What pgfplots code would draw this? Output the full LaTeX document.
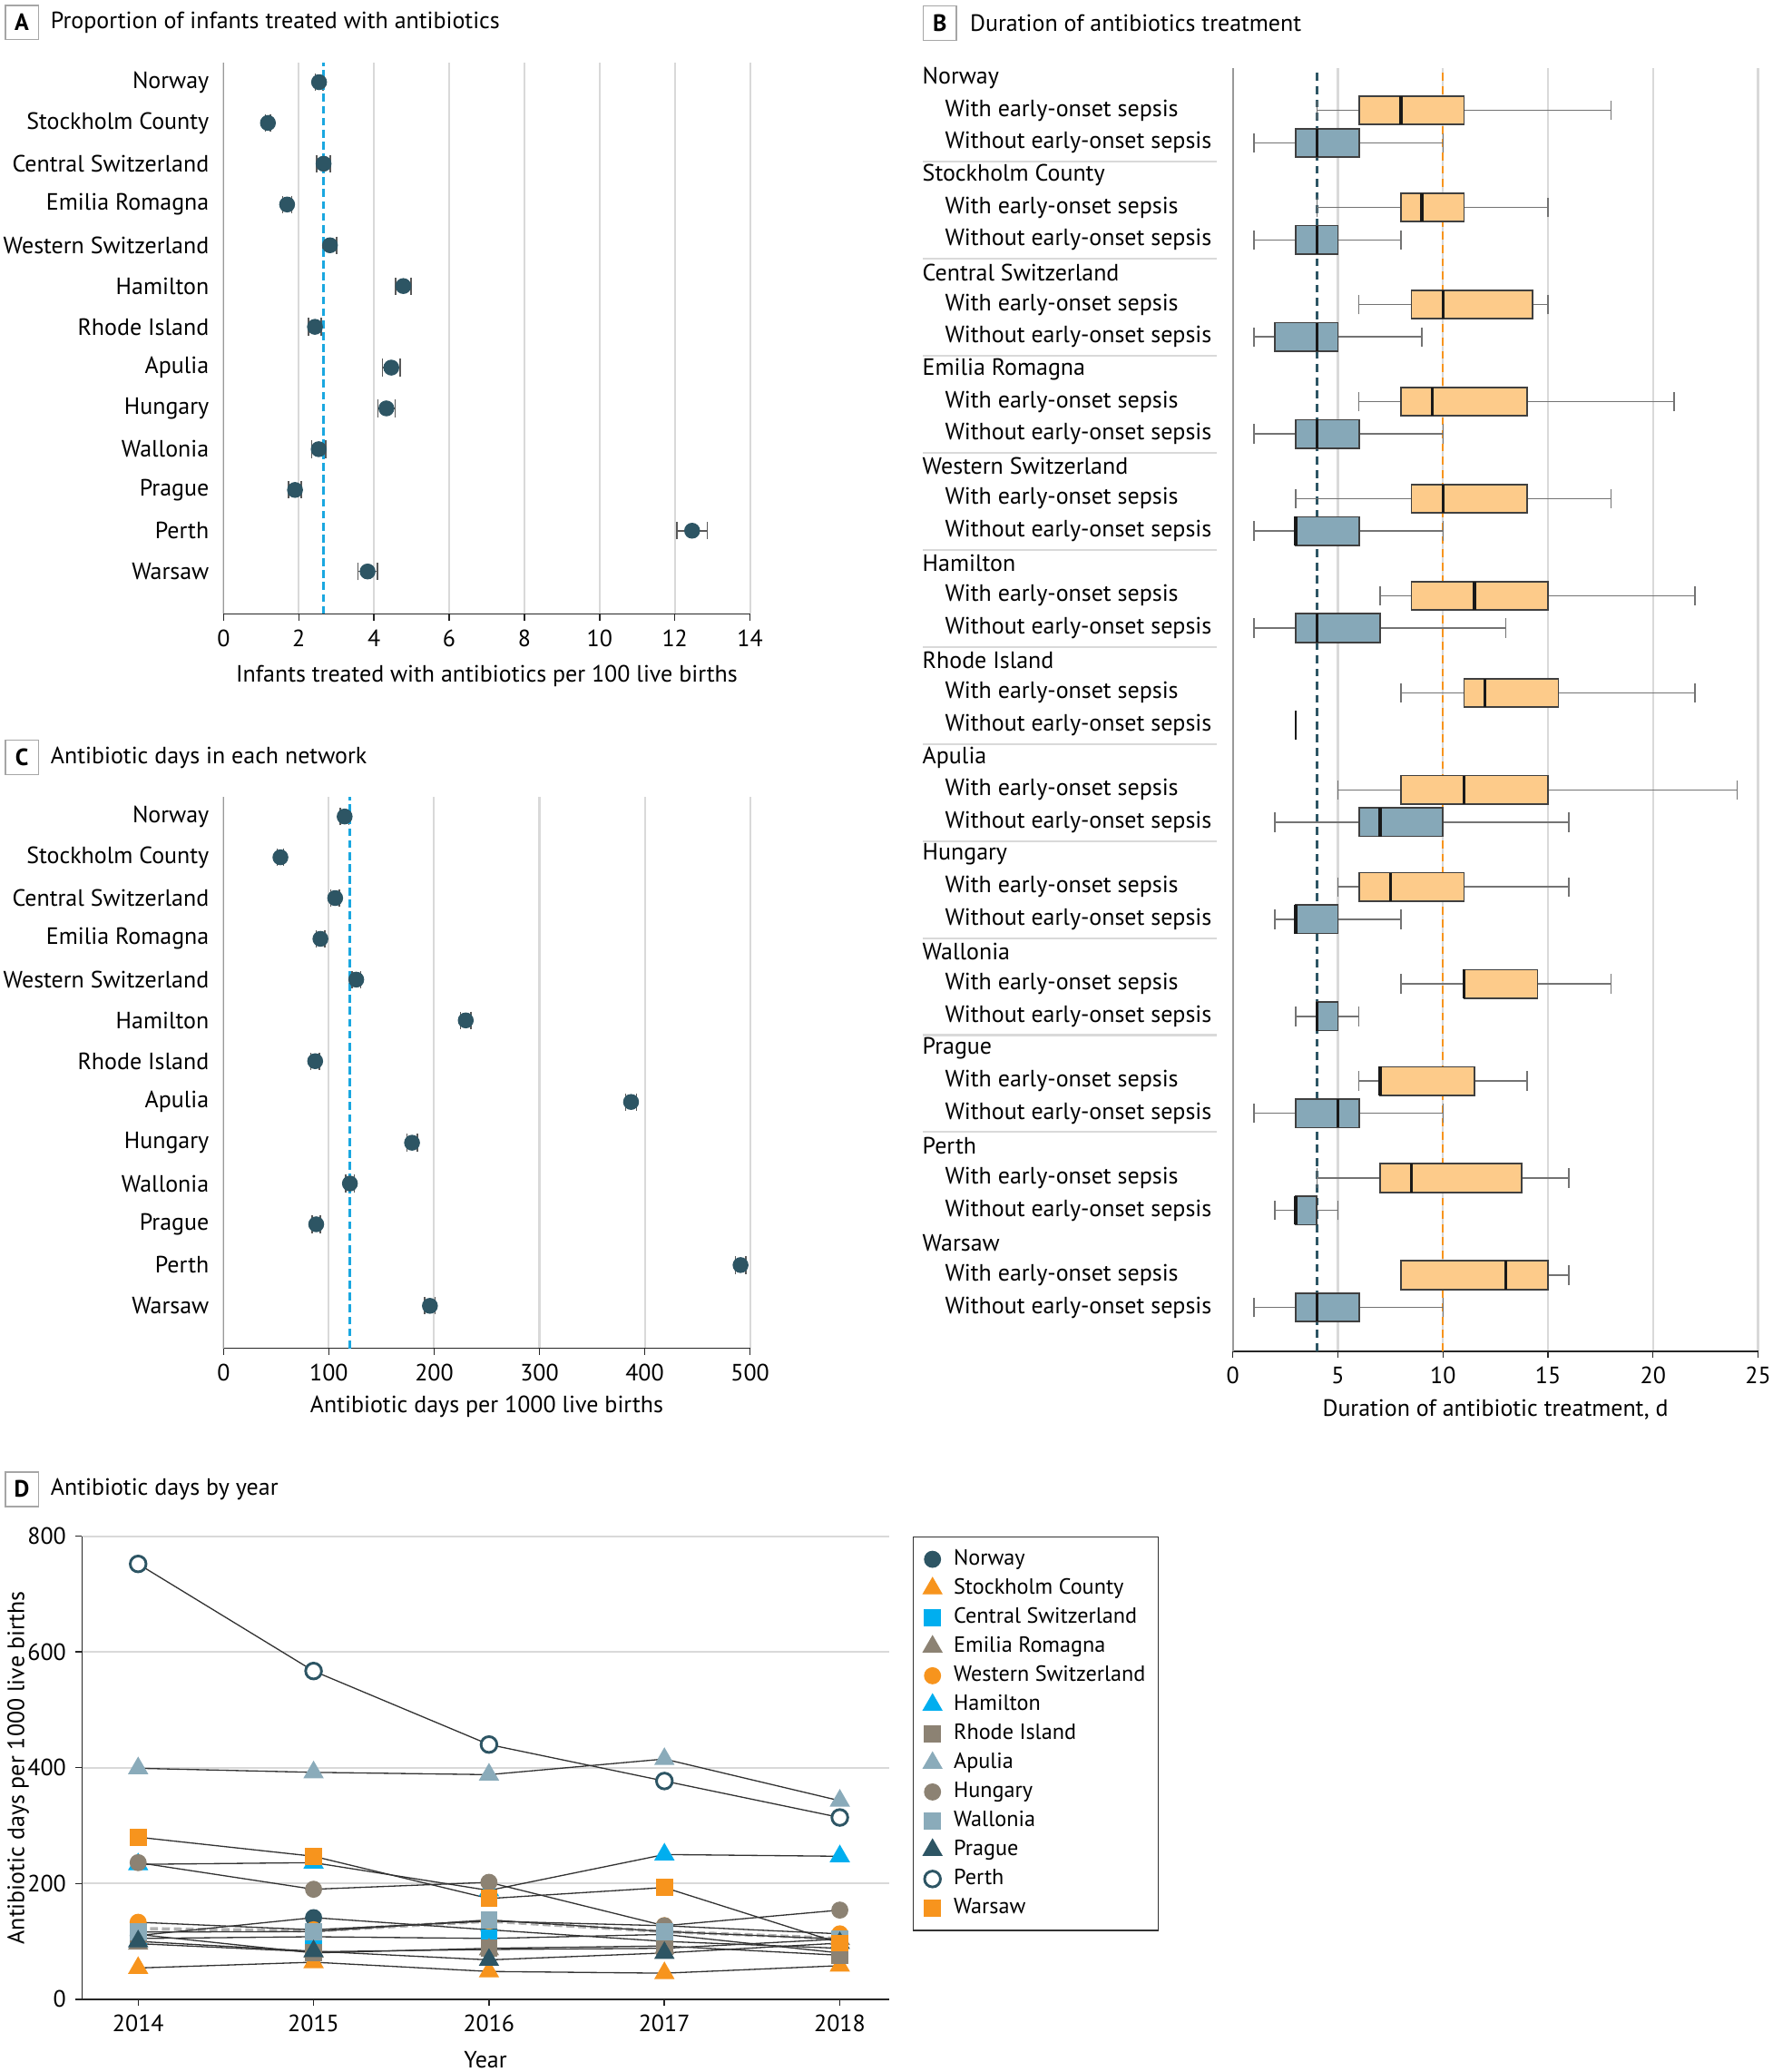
\documentclass[border=0pt]{standalone}
\usepackage{fontspec}
\setmainfont{PT Sans}
\usepackage{pgfplots}
\pgfplotsset{compat=1.18}
\usepgfplotslibrary{statistics}

\definecolor{dteal}{HTML}{2D5564}
\definecolor{aorange}{HTML}{F7941D}
\definecolor{abblue}{HTML}{00AEEF}
\definecolor{abrown}{HTML}{8C8273}
\definecolor{asteel}{HTML}{8AABBA}
\definecolor{dashcyan}{HTML}{1AA7E0}
\definecolor{boxorange}{HTML}{FDCB8A}
\definecolor{boxblue}{HTML}{86A8B8}
\definecolor{gridgray}{HTML}{D9D9D9}

\newcommand\ff{\fontsize{8.9pt}{10.5pt}\selectfont}
\newcommand\lf{\fontsize{8.3pt}{10pt}\selectfont}
\newcommand\Wi{\hspace*{8.5pt}With early-onset sepsis}
\newcommand\Wo{\hspace*{8.5pt}Without early-onset sepsis}

\pgfplotsset{
  panel/.style={
    scale only axis, anchor=north west,
    /pgf/number format/assume math mode=true,
    /pgf/number format/1000 sep={},
    tick label style={font=\ff},
    label style={font=\ff},
    axis x line*=bottom, axis y line*=left,
    axis line style={-},
    x axis line style={black!85, line width=0.6pt},
    y axis line style={gray!80, line width=0.6pt},
    tick style={black!85, line width=0.5pt},
    tick align=outside,
    major tick length=2.5pt,
    grid style={gridgray, line width=0.7pt},
    xlabel style={at={(axis description cs:0.5,0)}, anchor=center, yshift=-22pt},
  },
  dotpanel/.style={
    panel, width=199pt, height=208.5pt,
    ymin=-14.04, ymax=-0.51,
    ytick={-13,...,-1},
    yticklabels={Warsaw, Perth, Prague, Wallonia, Hungary, Apulia, Rhode Island,
      Hamilton, Western Switzerland, Emilia Romagna, Central Switzerland,
      Stockholm County, Norway},
    ytick style={draw=none},
    yticklabel style={xshift=0.5pt},
    xmajorgrids,
  },
  dots/.style={
    only marks, mark=*, mark size=2.8pt, color=dteal,
    error bars/.cd, x dir=both, x explicit,
    error bar style={black!65, line width=0.5pt},
    error mark options={rotate=90, mark size=3.3pt, black!65, line width=0.5pt},
  },
  obox/.style={draw=black!75, fill=boxorange, line width=0.6pt},
  bbox/.style={draw=black!75, fill=boxblue, line width=0.6pt},
  ser/.style={draw=black!80, line width=0.45pt, mark size=3pt},
}

\begin{document}
\begin{tikzpicture}
\path[use as bounding box] (0,0) rectangle (670pt,-783pt);

% ---------- A ----------
\begin{axis}[dotpanel, at={(84.5pt,-23.5pt)},
  xmin=0, xmax=14, xtick={0,2,...,14},
  xlabel={Infants treated with antibiotics per 100 live births},
  xlabel style={yshift=-1.5pt}]
\addplot[dots] coordinates {
  (2.54,-1) +- (0.10,0)
  (1.18,-2) +- (0.07,0)
  (2.66,-3) +- (0.18,0)
  (1.69,-4) +- (0.12,0)
  (2.83,-5) +- (0.18,0)
  (4.78,-6) +- (0.21,0)
  (2.43,-7) +- (0.17,0)
  (4.46,-8) +- (0.24,0)
  (4.33,-9) +- (0.23,0)
  (2.53,-10) +- (0.19,0)
  (1.90,-11) +- (0.17,0)
  (12.46,-12) +- (0.40,0)
  (3.83,-13) +- (0.26,0)
};
\addplot[dashcyan, line width=0.9pt, dash pattern=on 3pt off 1.5pt] coordinates {(2.66,-14.04) (2.66,-0.51)};
\end{axis}

% ---------- C ----------
\begin{axis}[dotpanel, at={(84.5pt,-301pt)},
  xmin=0, xmax=500, xtick={0,100,...,500},
  xlabel={Antibiotic days per 1000 live births}]
\addplot[dots] coordinates {
  (115,-1) +- (4,0)
  (54,-2) +- (3,0)
  (106,-3) +- (4,0)
  (92,-4) +- (4,0)
  (126,-5) +- (4,0)
  (230,-6) +- (5,0)
  (87,-7) +- (4,0)
  (387,-8) +- (5,0)
  (179,-9) +- (5,0)
  (120,-10) +- (4,0)
  (88,-11) +- (4,0)
  (491,-12) +- (5,0)
  (196,-13) +- (5,0)
};
\addplot[dashcyan, line width=0.9pt, dash pattern=on 3pt off 1.5pt] coordinates {(120,-14.04) (120,-0.51)};
\end{axis}

% ---------- B ----------
\begin{axis}[panel, at={(466pt,-25.6pt)}, width=198.5pt, height=485pt,
  xmin=0, xmax=25, xtick={0,5,...,25},
  ymin=-39.35, ymax=0.32,
  ytick={-38,...,0},
  yticklabels={\Wo,\Wi,Warsaw,\Wo,\Wi,Perth,\Wo,\Wi,Prague,\Wo,\Wi,Wallonia,
    \Wo,\Wi,Hungary,\Wo,\Wi,Apulia,\Wo,\Wi,Rhode Island,\Wo,\Wi,Hamilton,
    \Wo,\Wi,Western Switzerland,\Wo,\Wi,Emilia Romagna,\Wo,\Wi,Central Switzerland,
    \Wo,\Wi,Stockholm County,\Wo,\Wi,Norway},
  ytick style={draw=none},
  yticklabel style={anchor=west, xshift=-115pt, inner xsep=0pt},
  xmajorgrids, clip=false,
  xlabel={Duration of antibiotic treatment, d},
  boxplot/draw direction=x,
  boxplot/box extend=0.88,
  boxplot/whisker extend=0.6,
  boxplot/every whisker/.style={draw=gray!90!black, line width=0.5pt},
  boxplot/every median/.style={draw=black!90, line width=1.2pt},
]
\pgfplotsinvokeforeach{0,...,10}{
  \draw[gridgray, line width=0.7pt] (axis cs:-14.74,{-3*#1-2.58}) -- (axis cs:-0.76,{-3*#1-2.58});
}
\addplot[dteal, line width=0.8pt, dash pattern=on 3pt off 2pt] coordinates {(4,-39.35) (4,0.32)};
\addplot[aorange, line width=0.8pt, dash pattern=on 3pt off 2pt] coordinates {(10,-39.35) (10,0.32)};
% Norway
\addplot[obox, boxplot prepared={lower whisker=4, lower quartile=6, median=8, upper quartile=11, upper whisker=18, draw position=-1}] coordinates {};
\addplot[bbox, boxplot prepared={lower whisker=1, lower quartile=3, median=4, upper quartile=6, upper whisker=10, draw position=-2}] coordinates {};
% Stockholm County
\addplot[obox, boxplot prepared={lower whisker=4, lower quartile=8, median=9, upper quartile=11, upper whisker=15, draw position=-4}] coordinates {};
\addplot[bbox, boxplot prepared={lower whisker=1, lower quartile=3, median=4, upper quartile=5, upper whisker=8, draw position=-5}] coordinates {};
% Central Switzerland
\addplot[obox, boxplot prepared={lower whisker=6, lower quartile=8.5, median=10, upper quartile=14.25, upper whisker=15, draw position=-7}] coordinates {};
\addplot[bbox, boxplot prepared={lower whisker=1, lower quartile=2, median=4, upper quartile=5, upper whisker=9, draw position=-8}] coordinates {};
% Emilia Romagna
\addplot[obox, boxplot prepared={lower whisker=6, lower quartile=8, median=9.5, upper quartile=14, upper whisker=21, draw position=-10}] coordinates {};
\addplot[bbox, boxplot prepared={lower whisker=1, lower quartile=3, median=4, upper quartile=6, upper whisker=10, draw position=-11}] coordinates {};
% Western Switzerland
\addplot[obox, boxplot prepared={lower whisker=3, lower quartile=8.5, median=10, upper quartile=14, upper whisker=18, draw position=-13}] coordinates {};
\addplot[bbox, boxplot prepared={lower whisker=1, lower quartile=3, median=3, upper quartile=6, upper whisker=10, draw position=-14}] coordinates {};
% Hamilton
\addplot[obox, boxplot prepared={lower whisker=7, lower quartile=8.5, median=11.5, upper quartile=15, upper whisker=22, draw position=-16}] coordinates {};
\addplot[bbox, boxplot prepared={lower whisker=1, lower quartile=3, median=4, upper quartile=7, upper whisker=13, draw position=-17}] coordinates {};
% Rhode Island
\addplot[obox, boxplot prepared={lower whisker=8, lower quartile=11, median=12, upper quartile=15.5, upper whisker=22, draw position=-19}] coordinates {};
\addplot[bbox, boxplot/every median/.style={draw=black!90, line width=0.8pt}, boxplot prepared={lower whisker=3, lower quartile=3, median=3, upper quartile=3, upper whisker=3, draw position=-20}] coordinates {};
% Apulia
\addplot[obox, boxplot prepared={lower whisker=5, lower quartile=8, median=11, upper quartile=15, upper whisker=24, draw position=-22}] coordinates {};
\addplot[bbox, boxplot prepared={lower whisker=2, lower quartile=6, median=7, upper quartile=10, upper whisker=16, draw position=-23}] coordinates {};
% Hungary
\addplot[obox, boxplot prepared={lower whisker=5, lower quartile=6, median=7.5, upper quartile=11, upper whisker=16, draw position=-25}] coordinates {};
\addplot[bbox, boxplot prepared={lower whisker=2, lower quartile=3, median=3, upper quartile=5, upper whisker=8, draw position=-26}] coordinates {};
% Wallonia
\addplot[obox, boxplot prepared={lower whisker=8, lower quartile=11, median=11, upper quartile=14.5, upper whisker=18, draw position=-28}] coordinates {};
\addplot[bbox, boxplot prepared={lower whisker=3, lower quartile=4, median=4, upper quartile=5, upper whisker=6, draw position=-29}] coordinates {};
% Prague
\addplot[obox, boxplot prepared={lower whisker=6, lower quartile=7, median=7, upper quartile=11.5, upper whisker=14, draw position=-31}] coordinates {};
\addplot[bbox, boxplot prepared={lower whisker=1, lower quartile=3, median=5, upper quartile=6, upper whisker=10, draw position=-32}] coordinates {};
% Perth
\addplot[obox, boxplot prepared={lower whisker=4, lower quartile=7, median=8.5, upper quartile=13.75, upper whisker=16, draw position=-34}] coordinates {};
\addplot[bbox, boxplot prepared={lower whisker=2, lower quartile=3, median=3, upper quartile=4, upper whisker=5, draw position=-35}] coordinates {};
% Warsaw
\addplot[obox, boxplot prepared={lower whisker=8, lower quartile=8, median=13, upper quartile=15, upper whisker=16, draw position=-37}] coordinates {};
\addplot[bbox, boxplot prepared={lower whisker=1, lower quartile=3, median=4, upper quartile=6, upper whisker=10, draw position=-38}] coordinates {};
\end{axis}

% ---------- D ----------
\begin{axis}[panel, at={(31pt,-580.5pt)}, width=305pt, height=175pt,
  xmin=2013.68, xmax=2018.28, ymin=0, ymax=800,
  xtick={2014,...,2018}, ytick={0,200,...,800},
  ymajorgrids,
  y axis line style={black!85},
  xlabel={Year}, xlabel style={yshift=-1pt},
  ylabel={Antibiotic days per 1000 live births},
  ylabel style={at={(axis description cs:-0.079,0.5)}, anchor=center},
  legend style={at={(1,1)}, anchor=north west, xshift=9pt, draw=black!80,
    line width=0.5pt, font=\lf, inner sep=3pt, nodes={inner sep=1.8pt},
    row sep=0pt, column sep=2pt},
  legend cell align=left,
  legend image code/.code={\path (-4pt,0pt) (4pt,0pt); \draw[#1] plot coordinates {(0pt,0pt)};},
]
\addplot[gray!60, line width=1.3pt, dash pattern=on 3pt off 1.5pt, forget plot] coordinates {(2014,122)(2015,118)(2016,135)(2017,117)(2018,105)};
\addplot[ser, mark=*, mark options={draw=dteal, fill=dteal, solid}] coordinates {(2014,110)(2015,141)(2016,120)(2017,100)(2018,88)};
\addlegendentry{Norway}
\addplot[ser, mark=triangle*, mark size=4pt, mark options={draw=aorange, fill=aorange, solid}] coordinates {(2014,54)(2015,64)(2016,48)(2017,45)(2018,58)};
\addlegendentry{Stockholm County}
\addplot[ser, mark=square*, mark options={draw=abblue, fill=abblue, solid}] coordinates {(2014,105)(2015,108)(2016,105)(2017,112)(2018,80)};
\addlegendentry{Central Switzerland}
\addplot[ser, mark=triangle*, mark size=4pt, mark options={draw=abrown, fill=abrown, solid}] coordinates {(2014,96)(2015,82)(2016,86)(2017,88)(2018,104)};
\addlegendentry{Emilia Romagna}
\addplot[ser, mark=*, mark options={draw=aorange, fill=aorange, solid}] coordinates {(2014,133)(2015,120)(2016,135)(2017,127)(2018,113)};
\addlegendentry{Western Switzerland}
\addplot[ser, mark=triangle*, mark size=4pt, mark options={draw=abblue, fill=abblue, solid}] coordinates {(2014,233)(2015,236)(2016,188)(2017,250)(2018,247)};
\addlegendentry{Hamilton}
\addplot[ser, mark=square*, mark options={draw=abrown, fill=abrown, solid}] coordinates {(2014,112)(2015,80)(2016,88)(2017,92)(2018,76)};
\addlegendentry{Rhode Island}
\addplot[ser, mark=triangle*, mark size=4pt, mark options={draw=asteel, fill=asteel, solid}] coordinates {(2014,399)(2015,392)(2016,388)(2017,415)(2018,343)};
\addlegendentry{Apulia}
\addplot[ser, mark=*, mark options={draw=abrown, fill=abrown, solid}] coordinates {(2014,236)(2015,190)(2016,202)(2017,127)(2018,154)};
\addlegendentry{Hungary}
\addplot[ser, mark=square*, mark options={draw=asteel, fill=asteel, solid}] coordinates {(2014,116)(2015,117)(2016,137)(2017,117)(2018,104)};
\addlegendentry{Wallonia}
\addplot[ser, mark=triangle*, mark size=4pt, mark options={draw=dteal, fill=dteal, solid}] coordinates {(2014,100)(2015,83)(2016,68)(2017,80)(2018,97)};
\addlegendentry{Prague}
\addplot[ser, mark=*, mark options={draw=dteal, fill=white, line width=1pt, solid}] coordinates {(2014,752)(2015,567)(2016,440)(2017,377)(2018,314)};
\addlegendentry{Perth}
\addplot[ser, mark=square*, mark options={draw=aorange, fill=aorange, solid}] coordinates {(2014,280)(2015,247)(2016,174)(2017,193)(2018,97)};
\addlegendentry{Warsaw}
\end{axis}

% ---------- panel letters and titles ----------
\tikzset{plabel/.style={draw=gray!70, line width=0.5pt, minimum width=12.5pt, minimum height=13pt, inner sep=0pt, font=\ff\bfseries},
  ptitle/.style={anchor=west, font=\ff, inner sep=0pt}}
\node[plabel] at (8.25pt,-8.5pt) {A};
\node[ptitle] at (19pt,-8.5pt) {Proportion of infants treated with antibiotics};
\node[plabel] at (355.25pt,-8.75pt) {B};
\node[ptitle] at (366.5pt,-8.75pt) {Duration of antibiotics treatment};
\node[plabel] at (8.25pt,-286.25pt) {C};
\node[ptitle] at (19pt,-286.25pt) {Antibiotic days in each network};
\node[plabel] at (8.25pt,-562.75pt) {D};
\node[ptitle] at (19pt,-562.75pt) {Antibiotic days by year};
\end{tikzpicture}
\end{document}
